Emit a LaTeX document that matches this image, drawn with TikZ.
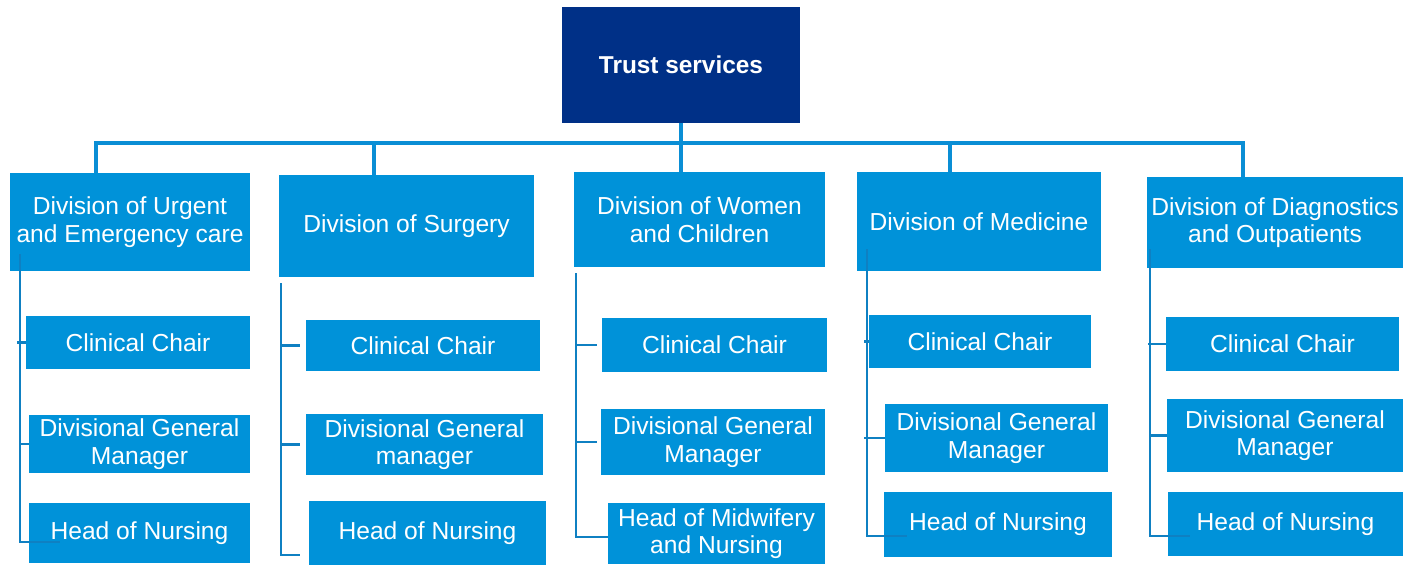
\documentclass[tikz,border=0pt]{standalone}
\usepackage{fontspec}
\setmainfont{Liberation Sans}
\definecolor{navy}{HTML}{003087}
\definecolor{nhsblue}{HTML}{0092D9}
\definecolor{busblue}{HTML}{0A8ED5}
\definecolor{subblue}{HTML}{0F80C2}
\begin{document}
\begin{tikzpicture}[x=1pt,y=-1pt,
  box/.style={fill=nhsblue, draw=none, inner sep=0pt, text=white, align=center,
    font=\fontsize{24.6}{27.5}\selectfont},
  topbox/.style={fill=navy, draw=none, inner sep=0pt, text=white, align=center,
    font=\fontsize{24.4}{27}\selectfont\bfseries},
  bus/.style={draw=busblue, line width=3.5pt},
  sub/.style={draw=subblue, line width=2.2pt}]
\useasboundingbox (0,0) rectangle (1406,566);

% top
\node[topbox, minimum width=238, minimum height=116] (top) at (681,65) {Trust services};

% divisions
\node[box, minimum width=240, minimum height=98] (d1) at (130,222) {Division of Urgent\\and Emergency care};
\node[box, minimum width=255, minimum height=102] (d2) at (406.5,226) {Division of Surgery};
\node[box, minimum width=251, minimum height=95] (d3) at (699.5,219.5) {Division of Women\\and Children};
\node[box, minimum width=244, minimum height=99] (d4) at (979,221.5) {Division of Medicine};
\node[box, minimum width=256, minimum height=91] (d5) at (1275,222.5) {Division of Diagnostics\\and Outpatients};

% children
\node[box, minimum width=224, minimum height=53] (c1) at (138,342.5) {Clinical Chair};
\node[box, minimum width=221, minimum height=58] (g1) at (139.5,444) {Divisional General\\Manager};
\node[box, minimum width=221, minimum height=60] (h1) at (139.5,533) {Head of Nursing};

\node[box, minimum width=234, minimum height=51] (c2) at (423,345.5) {Clinical Chair};
\node[box, minimum width=237, minimum height=61] (g2) at (424.5,444.5) {Divisional General\\manager};
\node[box, minimum width=237, minimum height=64] (h2) at (427.5,533) {Head of Nursing};

\node[box, minimum width=225, minimum height=54] (c3) at (714.5,345) {Clinical Chair};
\node[box, minimum width=224, minimum height=66] (g3) at (713,442) {Divisional General\\Manager};
\node[box, minimum width=217, minimum height=61] (h3) at (716.5,533.5) {Head of Midwifery\\and Nursing};

\node[box, minimum width=222, minimum height=53] (c4) at (980,341.5) {Clinical Chair};
\node[box, minimum width=223, minimum height=68] (g4) at (996.5,438) {Divisional General\\Manager};
\node[box, minimum width=228, minimum height=65] (h4) at (998,524.5) {Head of Nursing};

\node[box, minimum width=233, minimum height=54] (c5) at (1282.5,344) {Clinical Chair};
\node[box, minimum width=236, minimum height=73] (g5) at (1285,435.5) {Divisional General\\Manager};
\node[box, minimum width=235, minimum height=64] (h5) at (1285.5,524) {Head of Nursing};

% bus
\coordinate (b1) at (96,143);
\coordinate (b2) at (374,143);
\coordinate (b3) at (681,143);
\coordinate (b4) at (950,143);
\coordinate (b5) at (1243,143);
\draw[bus] (b1 |- d1.north) -- (b1) -- (b5) -- (b5 |- d5.north);
\draw[bus] (b2) -- (b2 |- d2.north);
\draw[bus] (top.south) -- (top.south |- d3.north);
\draw[bus] (b4) -- (b4 |- d4.north);

% column 1
\coordinate (v1t) at (20,254);
\coordinate (v1b) at (20,542);
\draw[sub] (v1t) -- (v1b) -- ++(40,0);
\draw[sub] (c1.west -| 17,0) -- (c1.west);
\draw[sub] (g1.west -| v1t) -- (g1.west);

% column 2
\coordinate (v2t) at (281,283);
\coordinate (v2b) at (281,555);
\draw[sub] (v2t) -- (v2b) -- ++(19,0);
\draw[sub] (v2t |- c2.west) -- ++(19,0);
\draw[sub] (v2t |- g2.west) -- ++(19,0);

% column 3
\coordinate (v3t) at (576,273);
\coordinate (v3b) at (576,537);
\draw[sub] (v3t) -- (v3b) -- (v3b -| h3.west);
\draw[sub] (v3t |- c3.west) -- ++(21,0);
\draw[sub] (v3t |- g3.west) -- ++(21,0);

% column 4
\coordinate (v4t) at (867,249);
\coordinate (v4b) at (867,536);
\draw[sub] (v4t) -- (v4b) -- ++(40,0);
\draw[sub] (c4.west -| 864,0) -- (c4.west);
\draw[sub] (g4.west -| 864,0) -- (g4.west);

% column 5
\coordinate (v5t) at (1150,249);
\coordinate (v5b) at (1150,536);
\draw[sub] (v5t) -- (v5b) -- ++(40,0);
\draw[sub] (c5.west -| 1148,0) -- (c5.west);
\draw[sub] (g5.west -| v5t) -- (g5.west);
\end{tikzpicture}
\end{document}
